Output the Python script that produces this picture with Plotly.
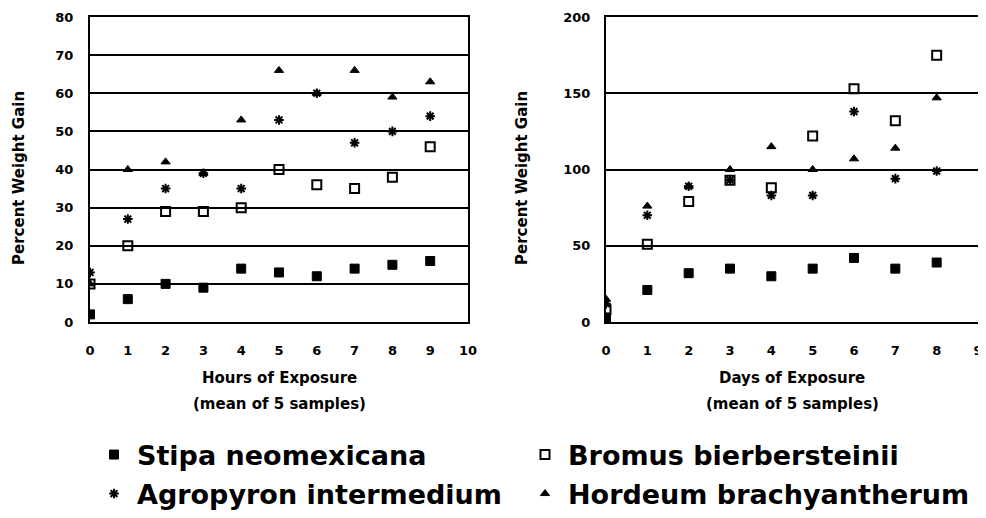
import plotly.graph_objects as go

# ---- data ----
hours = [0, 1, 2, 3, 4, 5, 6, 7, 8, 9]
stipa_h = [2, 6, 10, 9, 14, 13, 12, 14, 15, 16]
bromus_h = [10, 20, 29, 29, 30, 40, 36, 35, 38, 46]
agro_h = [13, 27, 35, 39, 35, 53, 60, 47, 50, 54]
hord_h = [10, 40, 42, 39, 53, 66, 60, 66, 59, 63]

days = [0, 1, 2, 3, 4, 5, 6, 7, 8]
stipa_d = [3, 21, 32, 35, 30, 35, 42, 35, 39]
bromus_d = [8, 51, 79, 93, 88, 122, 153, 132, 175]
agro_d = [12, 70, 89, 93, 83, 83, 138, 94, 99]
hord_d = [15, 76, 89, 100, 115, 100, 107, 114, 147]

species = ["Stipa neomexicana", "Bromus bierbersteinii",
           "Agropyron intermedium", "Hordeum brachyantherum"]
hour_tick_labels = [str(i) for i in range(0, 11)]
day_tick_labels = [str(i) for i in range(0, 10)]

FONT = "DejaVu Sans"
styles = [
    dict(symbol="square", size=9, color="black", line=dict(color="black", width=1)),
    dict(symbol="square-open", size=9, color="black", line=dict(color="black", width=2)),
    dict(symbol="asterisk-open", size=8, color="black", line=dict(color="black", width=2)),
    dict(symbol="triangle-up", size=8, color="black", line=dict(color="black", width=1)),
]
legend_ids = ["legend", "legend2", "legend3", "legend4"]

left_sets = [stipa_h, bromus_h, agro_h, hord_h]
right_sets = [stipa_d, bromus_d, agro_d, hord_d]

fig = go.Figure()
for name, ys, st, lg in zip(species, left_sets, styles, legend_ids):
    fig.add_trace(go.Scatter(x=hours, y=ys, mode="markers", name=name,
                             legendgroup=name, marker=st, legend=lg,
                             xaxis="x", yaxis="y"))
for name, ys, st, lg in zip(species, right_sets, styles, legend_ids):
    fig.add_trace(go.Scatter(x=days, y=ys, mode="markers", name=name,
                             legendgroup=name, marker=st, showlegend=False,
                             legend=lg, xaxis="x2", yaxis="y2"))

# page body has an 8px margin: screen coords = figure coords + 8
OFF = 8
W, H = 986 - OFF, 518 - OFF
top, bottom_px = 17 - OFF, 322 - OFF
ph = bottom_px - top

def px(X):
    return (X - OFF) / W

def py(Y):
    return (bottom_px - (Y - OFF)) / ph

axis_common = dict(showline=True, linecolor="black", linewidth=2, mirror=True,
                   ticks="", zeroline=False, automargin=False,
                   ticklabeloverflow="allow",
                   tickfont=dict(family=FONT, size=13, color="black", weight="bold"))

leg_font = dict(family=FONT, size=27, color="black", weight="bold")

def leg(X, Y):
    return dict(orientation="h", x=px(X), xanchor="left", y=py(Y), yanchor="middle",
                font=leg_font, itemwidth=36, bgcolor="rgba(0,0,0,0)")

fig.update_layout(
    width=W, height=H,
    margin=dict(l=0, r=0, t=top, b=H - bottom_px, autoexpand=False),
    paper_bgcolor="white", plot_bgcolor="white",
    font=dict(family=FONT, color="black"),
    xaxis=dict(domain=[px(90), px(468)], range=[0, 10], tickmode="array",
               tickvals=list(range(0, 11)), ticktext=hour_tick_labels,
               showgrid=False, ticklabelstandoff=15, **axis_common),
    yaxis=dict(range=[0, 80], tickmode="array", tickvals=list(range(0, 81, 10)),
               ticktext=[str(v) for v in range(0, 81, 10)],
               showgrid=True, gridcolor="black", gridwidth=2,
               ticklabelstandoff=12, **axis_common),
    xaxis2=dict(domain=[px(606), px(978)], range=[0, 9], tickmode="array",
                tickvals=list(range(0, 10)), ticktext=day_tick_labels,
                showgrid=False, ticklabelstandoff=15, anchor="y2", **axis_common),
    yaxis2=dict(range=[0, 200], tickmode="array", tickvals=list(range(0, 201, 50)),
                ticktext=[str(v) for v in range(0, 201, 50)],
                showgrid=True, gridcolor="black", gridwidth=2,
                ticklabelstandoff=11, anchor="x2", **axis_common),
    showlegend=True,
    legend=leg(91, 455),
    legend2=leg(522, 455),
    legend3=leg(91, 494),
    legend4=leg(522, 494),
)

tfont = dict(family=FONT, size=15, color="black", weight="bold")
ann = [
    dict(text="Hours of Exposure", x=px(279), y=py(378)),
    dict(text="(mean of 5 samples)", x=px(279), y=py(404)),
    dict(text="Days of Exposure", x=px(792), y=py(378)),
    dict(text="(mean of 5 samples)", x=px(792), y=py(404)),
]
for a in ann:
    fig.add_annotation(xref="paper", yref="paper", showarrow=False,
                       xanchor="center", yanchor="middle", font=tfont, **a)
for xc in (19, 522):
    fig.add_annotation(xref="paper", yref="paper", showarrow=False, textangle=-90,
                       x=px(xc), y=py(178), xanchor="center", yanchor="middle",
                       text="Percent Weight Gain", font=tfont)

fig.write_html("out.html")
